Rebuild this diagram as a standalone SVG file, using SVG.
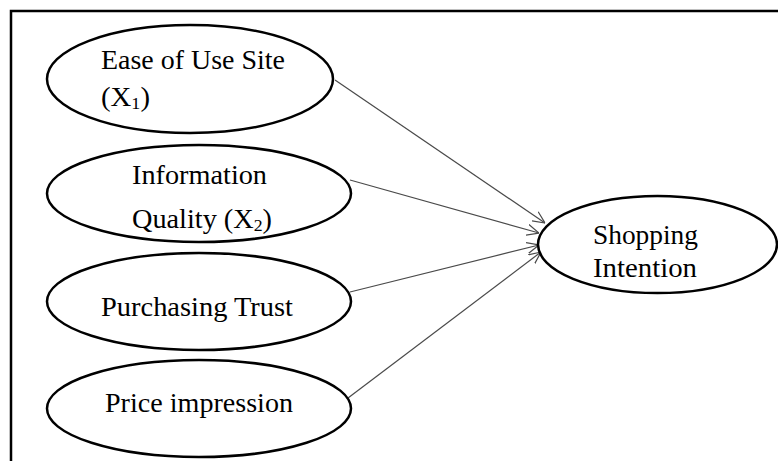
<svg xmlns="http://www.w3.org/2000/svg" width="778" height="461" viewBox="0 0 778 461">
<style>
  .node ellipse { fill: #ffffff; stroke: #000000; stroke-width: 2.5; }
  .node text { font-family: "Liberation Serif", "Times New Roman", serif; font-size: 27px; fill: #000000; }
  .sub { font-size: 17px; }
  .conn line { stroke: #4a4a4a; stroke-width: 1.2; fill: none; }
</style>
<defs>
  <marker id="arr" viewBox="0 0 12 12" refX="12" refY="6" markerWidth="12" markerHeight="12" markerUnits="userSpaceOnUse" orient="auto">
    <path d="M0,0.5 L12,6 L0,11.5" fill="none" stroke="#4a4a4a" stroke-width="1.2"/>
  </marker>
</defs>
<rect width="778" height="461" fill="#ffffff"/>
<path d="M11,461 L11,11 L778,11" fill="none" stroke="#000000" stroke-width="2.5"/>
<g class="conn">
  <line x1="335" y1="80" x2="545" y2="223" marker-end="url(#arr)"/>
  <line x1="350" y1="180" x2="539" y2="233" marker-end="url(#arr)"/>
  <line x1="350" y1="292" x2="539" y2="245" marker-end="url(#arr)"/>
  <line x1="348" y1="398" x2="541" y2="252" marker-end="url(#arr)"/>
</g>
<g id="n1" class="node">
  <ellipse cx="190" cy="79" rx="143" ry="54"/>
  <text x="101" y="69" textLength="184" lengthAdjust="spacingAndGlyphs">Ease of Use Site</text>
  <text x="101" y="106" textLength="49" lengthAdjust="spacingAndGlyphs">(X<tspan class="sub" dy="3">1</tspan><tspan dy="-3">)</tspan></text>
</g>
<g id="n2" class="node">
  <ellipse cx="199" cy="193.5" rx="152" ry="48.5"/>
  <text x="132" y="184" textLength="135" lengthAdjust="spacingAndGlyphs">Information</text>
  <text x="132" y="228" textLength="140" lengthAdjust="spacingAndGlyphs">Quality (X<tspan class="sub" dy="3">2</tspan><tspan dy="-3">)</tspan></text>
</g>
<g id="n3" class="node">
  <ellipse cx="199" cy="301.5" rx="152" ry="48.5"/>
  <text x="101" y="316" textLength="192" lengthAdjust="spacingAndGlyphs">Purchasing Trust</text>
</g>
<g id="n4" class="node">
  <ellipse cx="199" cy="408.5" rx="152" ry="48.5"/>
  <text x="105" y="412" textLength="188" lengthAdjust="spacingAndGlyphs">Price impression</text>
</g>
<g id="n5" class="node">
  <ellipse cx="657.5" cy="244.5" rx="119.5" ry="48.5"/>
  <text x="593" y="244" textLength="105" lengthAdjust="spacingAndGlyphs">Shopping</text>
  <text x="593" y="277" textLength="104" lengthAdjust="spacingAndGlyphs">Intention</text>
</g>
</svg>
